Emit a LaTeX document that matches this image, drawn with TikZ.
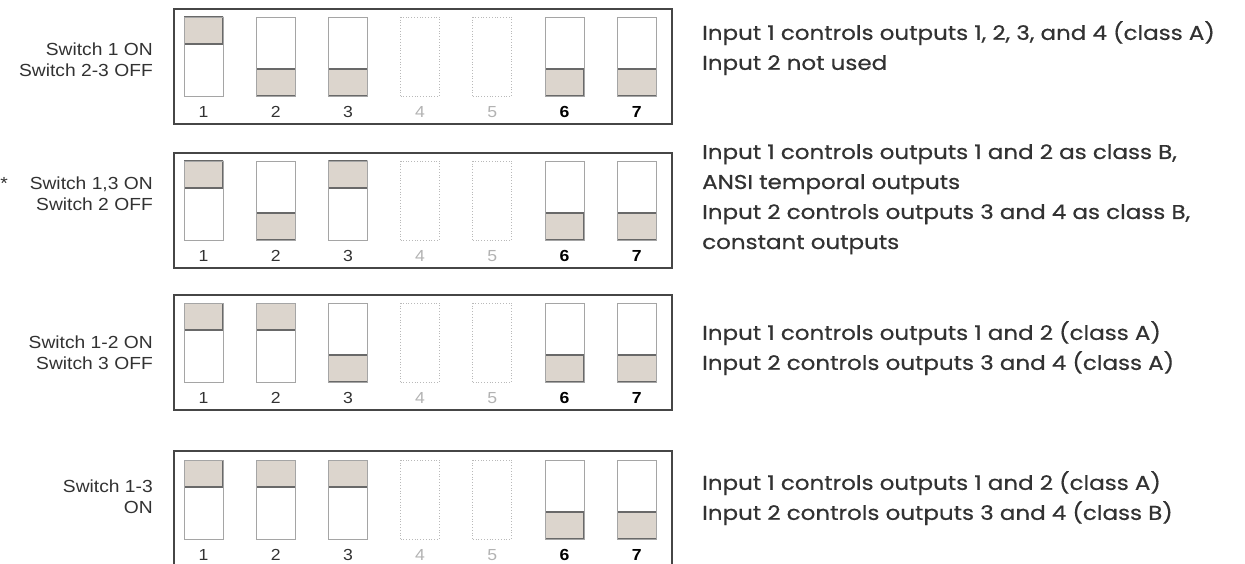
\documentclass[tikz,border=0pt]{standalone}
\usepackage{fontspec}
\usetikzlibrary{positioning}
\setmainfont{Liberation Sans}
\newfontfamily\switchfont[FakeStretch=1.1]{Liberation Sans}
\newfontfamily\notefont[FakeStretch=1.15, FakeBold=0.6]{Poppins}
\definecolor{knobfill}{RGB}{220, 213, 205}
\definecolor{knobline}{RGB}{105, 105, 105}
\definecolor{slotline}{RGB}{165, 165, 165}
\definecolor{idleline}{RGB}{185, 185, 185}
\definecolor{panelline}{RGB}{70, 70, 70}
\definecolor{textgray}{RGB}{50, 50, 50}

\begin{document}
\begin{tikzpicture}[
    x=1pt, y=-1pt,
    panelbox/.style={draw=panelline, line width=1.6pt, anchor=north west, minimum width=498pt, minimum height=115pt, inner sep=0pt},
    slot/.style={draw=slotline, line width=0.8pt, fill=white, minimum width=39pt, minimum height=79pt, inner sep=0pt},
    swon/.style={slot, path picture={\fill[knobfill, draw=knobline, line width=1.4pt] (path picture bounding box.north west) rectangle ([yshift=-27pt]path picture bounding box.north east);}},
    swoff/.style={slot, path picture={\fill[knobfill, draw=knobline, line width=1.4pt] (path picture bounding box.south west) rectangle ([yshift=27pt]path picture bounding box.south east);}},
    swnone/.style={draw=idleline, dotted, line width=0.8pt, minimum width=39pt, minimum height=79pt, inner sep=0pt},
    numlbl/.style={font=\switchfont\fontsize{16}{18}\selectfont, text=textgray, inner sep=1pt},
    numidle/.style={numlbl, text=black!30},
    numbold/.style={numlbl, font=\switchfont\bfseries\fontsize{16}{18}\selectfont, text=black},
    caption/.style={font=\switchfont\fontsize{17.5}{21}\selectfont, text=textgray, align=right, anchor=east, inner sep=0pt},
    note/.style={font=\notefont\fontsize{20}{30}\selectfont, text=textgray, align=left, anchor=north west, inner sep=0pt}
]
\useasboundingbox (0,0) rectangle (1245,564);

% Panel 1
\node (panel1) [panelbox] at (173,8) {};
\foreach \i/\st/\nm in {1/swon/numlbl, 2/swoff/numlbl, 3/swoff/numlbl, 4/swnone/numidle, 5/swnone/numidle, 6/swoff/numbold, 7/swoff/numbold} {
  \node (pa\i) [\st] at ({203.5+72.2*(\i-1)}, 56.5) {};
  \node (na\i) [\nm, below=9pt of pa\i] {\i};
}
\node (capa) [caption] at (153,60) {Switch 1 ON\\Switch 2-3 OFF};
\node (notea) [note] at (702,21) {Input 1 controls outputs 1, 2, 3, and 4 (class A)\\Input 2 not used};

% Panel 2
\node (panel2) [panelbox] at (173,152) {};
\foreach \i/\st/\nm in {1/swon/numlbl, 2/swoff/numlbl, 3/swon/numlbl, 4/swnone/numidle, 5/swnone/numidle, 6/swoff/numbold, 7/swoff/numbold} {
  \node (pb\i) [\st] at ({203.5+72.2*(\i-1)}, 200.5) {};
  \node (nb\i) [\nm, below=9pt of pb\i] {\i};
}
\node (capb) [caption] at (153,194) {*\hspace{22pt}Switch 1,3 ON\\Switch 2 OFF};
\node (noteb) [note] at (702,144) {Input 1 controls outputs 1 and 2 as class B,\\ANSI temporal outputs\\Input 2 controls outputs 3 and 4 as class B,\\constant outputs};

% Panel 3
\node (panel3) [panelbox] at (173,294) {};
\foreach \i/\st/\nm in {1/swon/numlbl, 2/swon/numlbl, 3/swoff/numlbl, 4/swnone/numidle, 5/swnone/numidle, 6/swoff/numbold, 7/swoff/numbold} {
  \node (pc\i) [\st] at ({203.5+72.2*(\i-1)}, 342.5) {};
  \node (nc\i) [\nm, below=9pt of pc\i] {\i};
}
\node (capc) [caption] at (153,353) {Switch 1-2 ON\\Switch 3 OFF};
\node (notec) [note] at (702,321) {Input 1 controls outputs 1 and 2 (class A)\\Input 2 controls outputs 3 and 4 (class A)};

% Panel 4
\node (panel4) [panelbox] at (173,450) {};
\foreach \i/\st/\nm in {1/swon/numlbl, 2/swon/numlbl, 3/swon/numlbl, 4/swnone/numidle, 5/swnone/numidle, 6/swoff/numbold, 7/swoff/numbold} {
  \node (pd\i) [\st] at ({203.5+72.2*(\i-1)}, 499.5) {};
  \node (nd\i) [\nm, below=9pt of pd\i] {\i};
}
\node (capd) [caption] at (153,497) {Switch 1-3\\ON};
\node (noted) [note] at (702,471) {Input 1 controls outputs 1 and 2 (class A)\\Input 2 controls outputs 3 and 4 (class B)};

\end{tikzpicture}
\end{document}
